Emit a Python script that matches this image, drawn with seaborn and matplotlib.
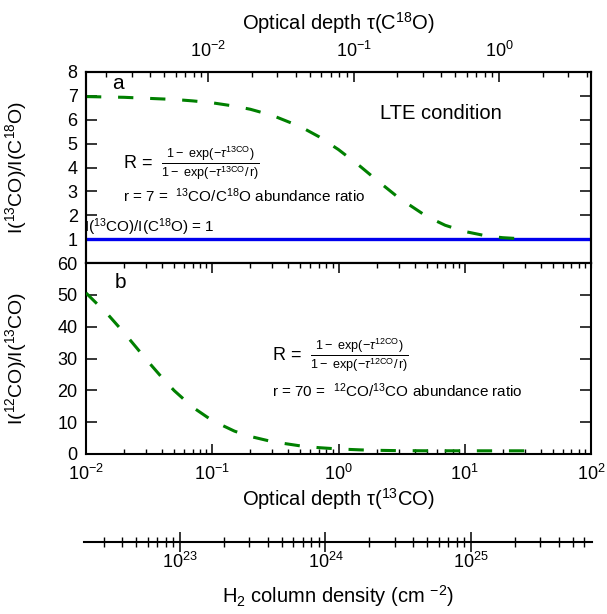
import numpy as np
import pandas as pd
import seaborn as sns
import matplotlib
matplotlib.use("Agg")
from matplotlib import pyplot as plt
from matplotlib.ticker import LogLocator, NullFormatter, FixedLocator

# panel a: I(13CO)/I(C18O), vs tau(13CO)
tau_a = [0.01, 0.02, 0.03, 0.05, 0.07, 0.1, 0.15, 0.2, 0.3, 0.5, 0.7, 1.0,
         1.5, 2.0, 3.0, 5.0, 7.0, 10.0, 15.0, 20.0, 25.0]
ratio_a = [6.97, 6.94, 6.90, 6.85, 6.79, 6.71, 6.57, 6.44, 6.18, 5.71, 5.29, 4.75,
           4.03, 3.48, 2.73, 1.95, 1.58, 1.32, 1.13, 1.06, 1.03]

# panel b: I(12CO)/I(13CO) vs tau(13CO)
tau_b = [0.01, 0.015, 0.02, 0.025, 0.03, 0.04, 0.05, 0.07, 0.1, 0.15, 0.2, 0.3,
         0.5, 0.7, 1.0, 1.5, 2.0, 3.0, 5.0, 10.0, 20.0, 30.0]
ratio_b = [50.6, 43.7, 38.1, 33.5, 29.7, 24.0, 19.9, 14.7, 10.5, 7.18, 5.52, 3.86,
           2.54, 1.99, 1.58, 1.29, 1.16, 1.05, 1.01, 1.0, 1.0, 1.0]

lte_level = 1.0

ticks_a = [1, 2, 3, 4, 5, 6, 7, 8]
ticks_b = [0, 10, 20, 30, 40, 50, 60]
tau_range = (1e-2, 1e2)
c18o_range = (10 ** -2.8385, 10 ** 0.632)
nh2_range = (10 ** 22.340, 10 ** 25.832)

GREEN = "#008000"
BLUE = "#0000ee"

sns.set_style("ticks")
plt.rcParams["font.family"] = ["Liberation Sans", "DejaVu Sans"]
plt.rcParams["mathtext.fontset"] = "custom"
plt.rcParams["mathtext.rm"] = "Liberation Sans"
plt.rcParams["mathtext.it"] = "Liberation Sans:italic"
plt.rcParams["mathtext.bf"] = "Liberation Sans:bold"
for key in ("text.color", "axes.labelcolor", "xtick.color", "ytick.color",
            "axes.edgecolor"):
    plt.rcParams[key] = "black"

W, H = 607, 614
fig = plt.figure(figsize=(W / 100, H / 100), dpi=100)


def box(x0, x1, ytop, ybot):
    return [x0 / W, 1 - ybot / H, (x1 - x0) / W, (ybot - ytop) / H]


ax1 = fig.add_axes(box(86, 591, 72, 263))
ax2 = fig.add_axes(box(86, 591, 263, 454))

for ax in (ax1, ax2):
    ax.set_xscale("log")
    ax.set_xlim(tau_range)
    for s in ax.spines.values():
        s.set_linewidth(1.5)
        s.set_color("black")

# --- panel a
ax1.axhline(lte_level, color=BLUE, lw=2.4, zorder=2)
sns.lineplot(x=tau_a, y=ratio_a, ax=ax1, color=GREEN, lw=2.2,
             linestyle=(0, (5, 5.5)), zorder=3)
ax1.set_ylim(0, 8)
ax1.yaxis.set_major_locator(FixedLocator(ticks_a))
ax1.tick_params(axis="y", which="major", direction="in", length=8, width=1.1,
                labelsize=13, left=True, right=True, pad=6)
ax1.tick_params(axis="x", which="both", bottom=False, labelbottom=False, top=False)
ax1.set_ylabel("I($^{13}$CO)/I(C$^{18}$O)", fontsize=14)
ax1.yaxis.set_label_coords(-0.112, 0.5)

ax1t = ax1.twiny()
ax1t.set_xscale("log")
ax1t.set_xlim(c18o_range)
ax1t.xaxis.set_minor_locator(LogLocator(base=10, subs=np.arange(2, 10)))
ax1t.xaxis.set_minor_formatter(NullFormatter())
ax1t.tick_params(axis="x", which="major", direction="in", length=7, width=1.1,
                 labelsize=13, pad=8)
ax1t.tick_params(axis="x", which="minor", direction="in", length=3.6, width=1.0)
ax1t.set_xlabel("Optical depth τ(C$^{18}$O)", fontsize=14.5, labelpad=8)
for s in ax1t.spines.values():
    s.set_linewidth(1.5)

ax1.text(0.052, 0.94, "a", transform=ax1.transAxes, fontsize=15, va="center")
ax1.text(0.582, 0.785, "LTE condition", transform=ax1.transAxes, fontsize=14.5,
         va="center")
ax1.text(0.073, 0.52,
         r"R =  $\frac{1-\ \exp(-\tau^{\mathrm{13CO}})}{1-\ \exp(-\tau^{\mathrm{13CO}}/\,\mathrm{r})}$",
         transform=ax1.transAxes, fontsize=13, va="center")
ax1.text(0.073, 0.35, "r = 7 =  $^{13}$CO/C$^{18}$O abundance ratio",
         transform=ax1.transAxes, fontsize=11, va="center")
ax1.text(-0.003, 0.19, "I($^{13}$CO)/I(C$^{18}$O) = 1", transform=ax1.transAxes,
         fontsize=11, va="center")

# --- panel b
sns.lineplot(x=tau_b, y=ratio_b, ax=ax2, color=GREEN, lw=2.2,
             linestyle=(0, (5, 5.5)), zorder=3)
ax2.set_ylim(0, 60)
ax2.yaxis.set_major_locator(FixedLocator(ticks_b))
ax2.xaxis.set_minor_locator(LogLocator(base=10, subs=np.arange(2, 10)))
ax2.xaxis.set_minor_formatter(NullFormatter())
ax2.tick_params(axis="y", which="major", direction="in", length=8, width=1.1,
                labelsize=13, left=True, right=True, pad=6)
ax2.tick_params(axis="x", which="major", direction="in", length=7, width=1.1,
                labelsize=13, top=True, bottom=True, pad=7)
ax2.tick_params(axis="x", which="minor", direction="in", length=3.6, width=1.0,
                top=True, bottom=True)
ax2.set_xlabel("Optical depth τ($^{13}$CO)", fontsize=14.5, labelpad=2)
ax2.set_ylabel("I($^{12}$CO)/I($^{13}$CO)", fontsize=14)
ax2.yaxis.set_label_coords(-0.112, 0.5)

ax2.text(0.057, 0.90, "b", transform=ax2.transAxes, fontsize=15, va="center")
ax2.text(0.368, 0.515,
         r"R =  $\frac{1-\ \exp(-\tau^{\mathrm{12CO}})}{1-\ \exp(-\tau^{\mathrm{12CO}}/\,\mathrm{r})}$",
         transform=ax2.transAxes, fontsize=13, va="center")
ax2.text(0.368, 0.33, "r = 70 =  $^{12}$CO/$^{13}$CO abundance ratio",
         transform=ax2.transAxes, fontsize=11, va="center")

# --- H2 column density scale
ax3 = fig.add_axes([84 / W, 1 - 542 / H, (592 - 84) / W, 0.0001])
ax3.set_xscale("log")
ax3.set_xlim(nh2_range)
ax3.set_yticks([])
ax3.patch.set_visible(False)
for side in ("top", "left", "right"):
    ax3.spines[side].set_visible(False)
ax3.spines["bottom"].set_linewidth(1.5)
ax3.spines["bottom"].set_color("black")
ax3.xaxis.set_minor_locator(LogLocator(base=10, subs=np.arange(2, 10)))
ax3.xaxis.set_minor_formatter(NullFormatter())
ax3.tick_params(axis="x", which="major", direction="inout", length=14, width=1.1,
                labelsize=13, pad=0)
ax3.tick_params(axis="x", which="minor", direction="inout", length=7, width=1.0)
ax3.set_xlabel("H$_2$ column density (cm $^{-2}$)", fontsize=14.5, labelpad=8)

fig.savefig("out.png", dpi=100)
